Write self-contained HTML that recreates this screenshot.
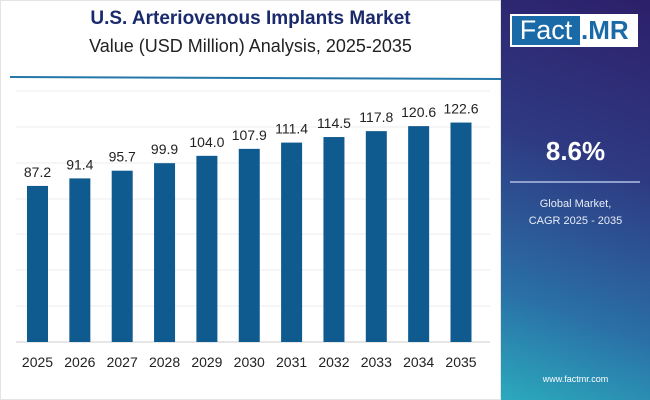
<!DOCTYPE html>
<html><head><style>
body{margin:0;width:650px;height:400px;background:#fff;font-family:"Liberation Sans",sans-serif;position:relative;overflow:hidden}
.panel{position:absolute;left:501px;top:0;width:149px;height:400px;background:linear-gradient(200deg,#2d1f6a 0%,#2e3a82 40%,#2a6fa6 75%,#2cc1c6 110%)}
</style></head><body>
<div style="position:absolute;left:0;top:0;width:501px;height:400px;border:1px solid #e4e4e4;box-sizing:border-box"></div>
<div style="position:absolute;left:0;width:501px;top:8px;text-align:center;font-size:19px;font-weight:bold;color:#1a2a6c">U.S. Arteriovenous Implants Market</div>
<div style="position:absolute;left:0;width:501px;top:36px;text-align:center;font-size:18px;color:#222">Value (USD Million) Analysis, 2025-2035</div>
<svg width="650" height="400" style="position:absolute;left:0;top:0">
<line x1="10" y1="77" x2="501" y2="79" stroke="#2577a8" stroke-width="2"/>
<g stroke="#eeeeee" stroke-width="1">
<line x1="16" x2="490" y1="91" y2="91"/><line x1="16" x2="490" y1="127" y2="127"/><line x1="16" x2="490" y1="163" y2="163"/><line x1="16" x2="490" y1="199" y2="199"/><line x1="16" x2="490" y1="234" y2="234"/><line x1="16" x2="490" y1="270" y2="270"/><line x1="16" x2="490" y1="306" y2="306"/>
</g>
<line x1="16" x2="490" y1="342" y2="342" stroke="#ccc"/>
<g fill="#0f5a8f" id="bars"></g>
<g font-size="14" fill="#222" text-anchor="middle" id="lbl"></g>
</svg>
<script>
var v=[87.2,91.4,95.7,99.9,104.0,107.9,111.4,114.5,117.8,120.6,122.6];
var b=document.getElementById('bars'),l=document.getElementById('lbl'),s='',t='';
for(var i=0;i<11;i++){var cx=37.5+i*42.35,h=v[i]*1.79,y=342-h;
s+='<rect x="'+(cx-10.5)+'" y="'+y+'" width="21" height="'+h+'"/>';
t+='<text x="'+cx+'" y="'+(y-9)+'">'+v[i].toFixed(1)+'</text><text x="'+cx+'" y="367">'+(2025+i)+'</text>';}
b.innerHTML=s;l.innerHTML=t;
</script>
<div class="panel">
<div style="position:absolute;left:9px;top:14px;width:128px;height:33px;background:#fff"></div>
<div style="position:absolute;left:11px;top:16px;width:68px;height:29px;background:#1a6aa8;color:#fff;font-size:27px;line-height:29px;text-align:center">Fact</div>
<div style="position:absolute;left:80px;top:16px;width:56px;height:29px;color:#1a6aa8;font-size:26px;font-weight:bold;line-height:29px">.MR</div>
<div style="position:absolute;left:0;width:149px;top:136px;text-align:center;color:#fff;font-size:26px;font-weight:bold">8.6%</div>
<div style="position:absolute;left:9px;top:181px;width:130px;height:2px;background:#8fa0cc"></div>
<div style="position:absolute;left:0;width:149px;top:196px;text-align:center;color:#e8ecf8;font-size:11px;line-height:17px">Global Market,<br>CAGR 2025 - 2035</div>
<div style="position:absolute;left:0;width:149px;top:374px;text-align:center;color:#fff;font-size:9px">www.factmr.com</div>
</div>
</body></html>
